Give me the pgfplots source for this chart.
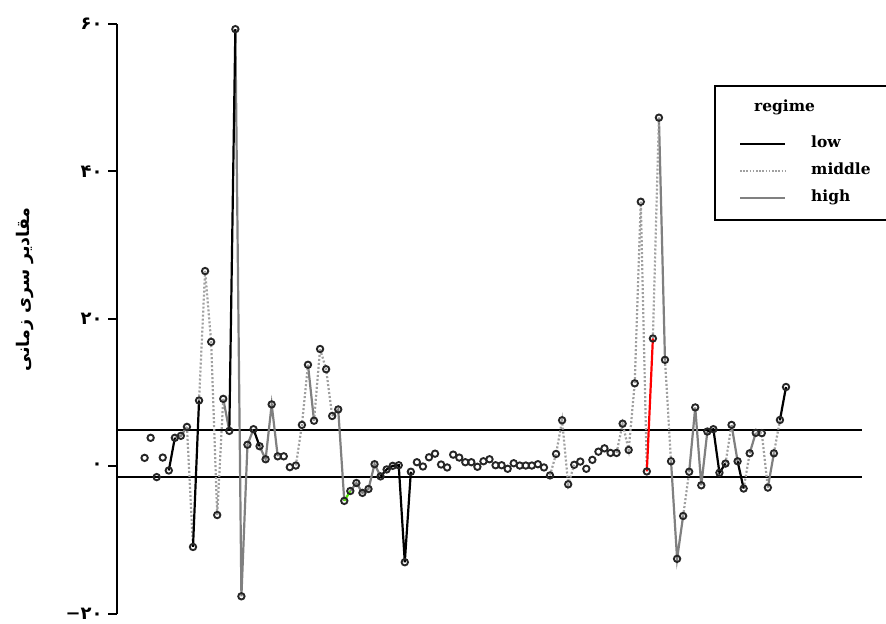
\documentclass[border=0pt]{standalone}
\usepackage{pgfplots}
\pgfplotsset{compat=1.18}
\usepackage{fontspec}
\setmainfont{DejaVu Serif}
\newfontfamily\arabicfont[Script=Arabic]{DejaVu Sans}
\TeXXeTstate=1
\definecolor{midgray}{RGB}{160,160,160}
\definecolor{higray}{RGB}{128,128,128}
\definecolor{mygreen}{RGB}{80,230,0}
\begin{document}
\begin{tikzpicture}
\path[use as bounding box] (0,0) rectangle (886bp,624bp);
\begin{axis}[
  at={(117bp,10bp)}, anchor=south west,
  scale only axis, width=745bp, height=590bp,
  xmin=-3.56, xmax=119.56, ymin=-20, ymax=60,
  axis x line=none, axis y line*=left,
  y axis line style={line width=2bp, -},
  ytick={-20,0,20,40,60},
  yticklabels={{{\rmfamily\bfseries −}۲۰},{۰},{۲۰},{۴۰},{۶۰}},
  yticklabel style={font=\arabicfont\bfseries\fontsize{18}{20}\selectfont, anchor=east, xshift=-2bp},
  major tick length=9bp,
  tick style={line width=2bp, black},
  tick align=outside,
  clip=false,
  unbounded coords=jump,
  ylabel={\arabicfont\bfseries\beginR مقادیر سری زمانی\endR},
  ylabel style={at={(axis description cs:-0.1235,0.55)}, anchor=center, rotate=0, font=\fontsize{17.5}{20}\selectfont},
  legend cell align=left,
  legend image code/.code={\draw[#1] (0bp,0bp) -- (45bp,0bp);},
  legend style={at={(axis description cs:0.8013,0.897)}, anchor=north west,
    draw=black, line width=2bp, font=\bfseries\fontsize{15.5}{19}\selectfont,
    inner xsep=24bp, inner ysep=14bp, row sep=10.5bp, column sep=0bp,
    nodes={inner sep=0bp, text height=12bp, text depth=4.5bp}},
]
% reference lines
\addplot[black, line width=2bp, forget plot] coordinates {(-3.56,4.9) (119.56,4.9)};
\addplot[black, line width=2bp, forget plot] coordinates {(-3.56,-1.4) (119.56,-1.4)};

% legend entries
\addlegendimage{legend image code/.code={}}
\addlegendentry[text depth=13.5bp]{\hspace*{-32bp}regime}
\addlegendimage{black, line width=2.2bp}
\addlegendentry{\hspace*{25bp}low}
\addlegendimage{midgray, line width=2.2bp, dash pattern=on 1.6bp off 1.6bp}
\addlegendentry{\hspace*{25bp}\makebox[110bp][l]{middle}}
\addlegendimage{higray, line width=2.2bp}
\addlegendentry{\hspace*{25bp}high}

% high regime (gray solid)
\addplot[higray, line width=2.2bp, forget plot] coordinates {
(6,3.89)(7,4.16)(8,5.37) (8.5,nan)
(14,9.17)(15,4.83) (15.5,nan)
(16,59.3)(17,-17.6)(18,2.95)(19,5.06) (19.5,nan)
(20,2.75)(21,0.98)(22,8.42)(23,1.38) (23.5,nan)
(28,13.79)(29,6.21) (29.5,nan)
(32,6.85)(33,7.74)(34,-4.66) (34.5,nan)
(35,-3.32)(36,-2.24)(37,-3.58)(38,-3.05)(39,0.31)(40,-1.34) (40.5,nan)
(86,47.3)(87,14.46) (87.5,nan)
(88,0.71)(89,-12.52)(90,-6.71) (90.5,nan)
(91,-0.71)(92,8.01)(93,-2.55)(94,4.74) (94.5,nan)
(98,5.64)(99,0.71) (99.5,nan)
(101,1.79)(102,4.56) (102.5,nan)
(104,-2.86)(105,1.79)
};

% middle regime (gray dotted)
\addplot[midgray, line width=2.2bp, dash pattern=on 2bp off 2bp, forget plot] coordinates {
(8,5.37)(9,-10.91) (9.5,nan)
(10,8.95)(11,26.5)(12,16.9)(13,-6.58)(14,9.17) (14.5,nan)
(26,0.13)(27,5.64)(28,13.79) (28.5,nan)
(29,6.21)(30,15.93)(31,13.19)(32,6.85) (32.5,nan)
(68,-1.21)(69,1.70)(70,6.27)(71,-2.42)(72,0.23) (72.5,nan)
(79,1.84)(80,5.81)(81,2.24)(82,11.28)(83,35.9)(84,-0.67) (84.5,nan)
(85,17.36)(86,47.3) (86.5,nan)
(87,14.46)(88,0.71) (88.5,nan)
(90,-6.71)(91,-0.71) (91.5,nan)
(97,0.40)(98,5.64) (98.5,nan)
(100,-2.99)(101,1.79) (101.5,nan)
(102,4.56)(103,4.52)(104,-2.86) (104.5,nan)
(105,1.79)(106,6.31)
};

% low regime (black solid)
\addplot[black, line width=2.2bp, forget plot] coordinates {
(5,-0.54)(6,3.89) (6.5,nan)
(9,-10.91)(10,8.95) (10.5,nan)
(15,4.83)(16,59.3) (16.5,nan)
(19,5.06)(20,2.75) (20.5,nan)
(40,-1.34)(41,-0.40)(42,0.09)(43,0.17)(44,-12.98)(45,-0.71) (45.5,nan)
(94,4.74)(95,5.06)(96,-0.85)(97,0.40) (97.5,nan)
(99,0.71)(100,-2.99) (100.5,nan)
(106,6.31)(107,10.78)
};

% highlighted transitions
\addplot[red, line width=2.2bp, forget plot] coordinates {(84,-0.67)(85,17.36)};
\addplot[mygreen, line width=2.2bp, forget plot] coordinates {(34,-4.66)(35,-3.32)};

% observations
\addplot[only marks, mark=o, mark size=3.2bp, mark options={draw=black!85, line width=1.9bp}, forget plot] table {
x y
1 1.17
2 3.89
3 -1.44
4 1.21
5 -0.54
6 3.89
7 4.16
8 5.37
9 -10.91
10 8.95
11 26.5
12 16.9
13 -6.58
14 9.17
15 4.83
16 59.3
17 -17.6
18 2.95
19 5.06
20 2.75
21 0.98
22 8.42
23 1.38
24 1.38
25 -0.09
26 0.13
27 5.64
28 13.79
29 6.21
30 15.93
31 13.19
32 6.85
33 7.74
34 -4.66
35 -3.32
36 -2.24
37 -3.58
38 -3.05
39 0.31
40 -1.34
41 -0.40
42 0.09
43 0.17
44 -12.98
45 -0.71
46 0.58
47 0.0
48 1.25
49 1.74
50 0.27
51 -0.13
52 1.61
53 1.21
54 0.58
55 0.58
56 -0.04
57 0.71
58 0.98
59 0.17
60 0.17
61 -0.31
62 0.44
63 0.13
64 0.13
65 0.13
66 0.31
67 -0.13
68 -1.21
69 1.70
70 6.27
71 -2.42
72 0.23
73 0.67
74 -0.31
75 0.90
76 2.01
77 2.46
78 1.84
79 1.84
80 5.81
81 2.24
82 11.28
83 35.9
84 -0.67
85 17.36
86 47.3
87 14.46
88 0.71
89 -12.52
90 -6.71
91 -0.71
92 8.01
93 -2.55
94 4.74
95 5.06
96 -0.85
97 0.40
98 5.64
99 0.71
100 -2.99
101 1.79
102 4.56
103 4.52
104 -2.86
105 1.79
106 6.31
107 10.78
};
\end{axis}
\end{tikzpicture}
\end{document}
